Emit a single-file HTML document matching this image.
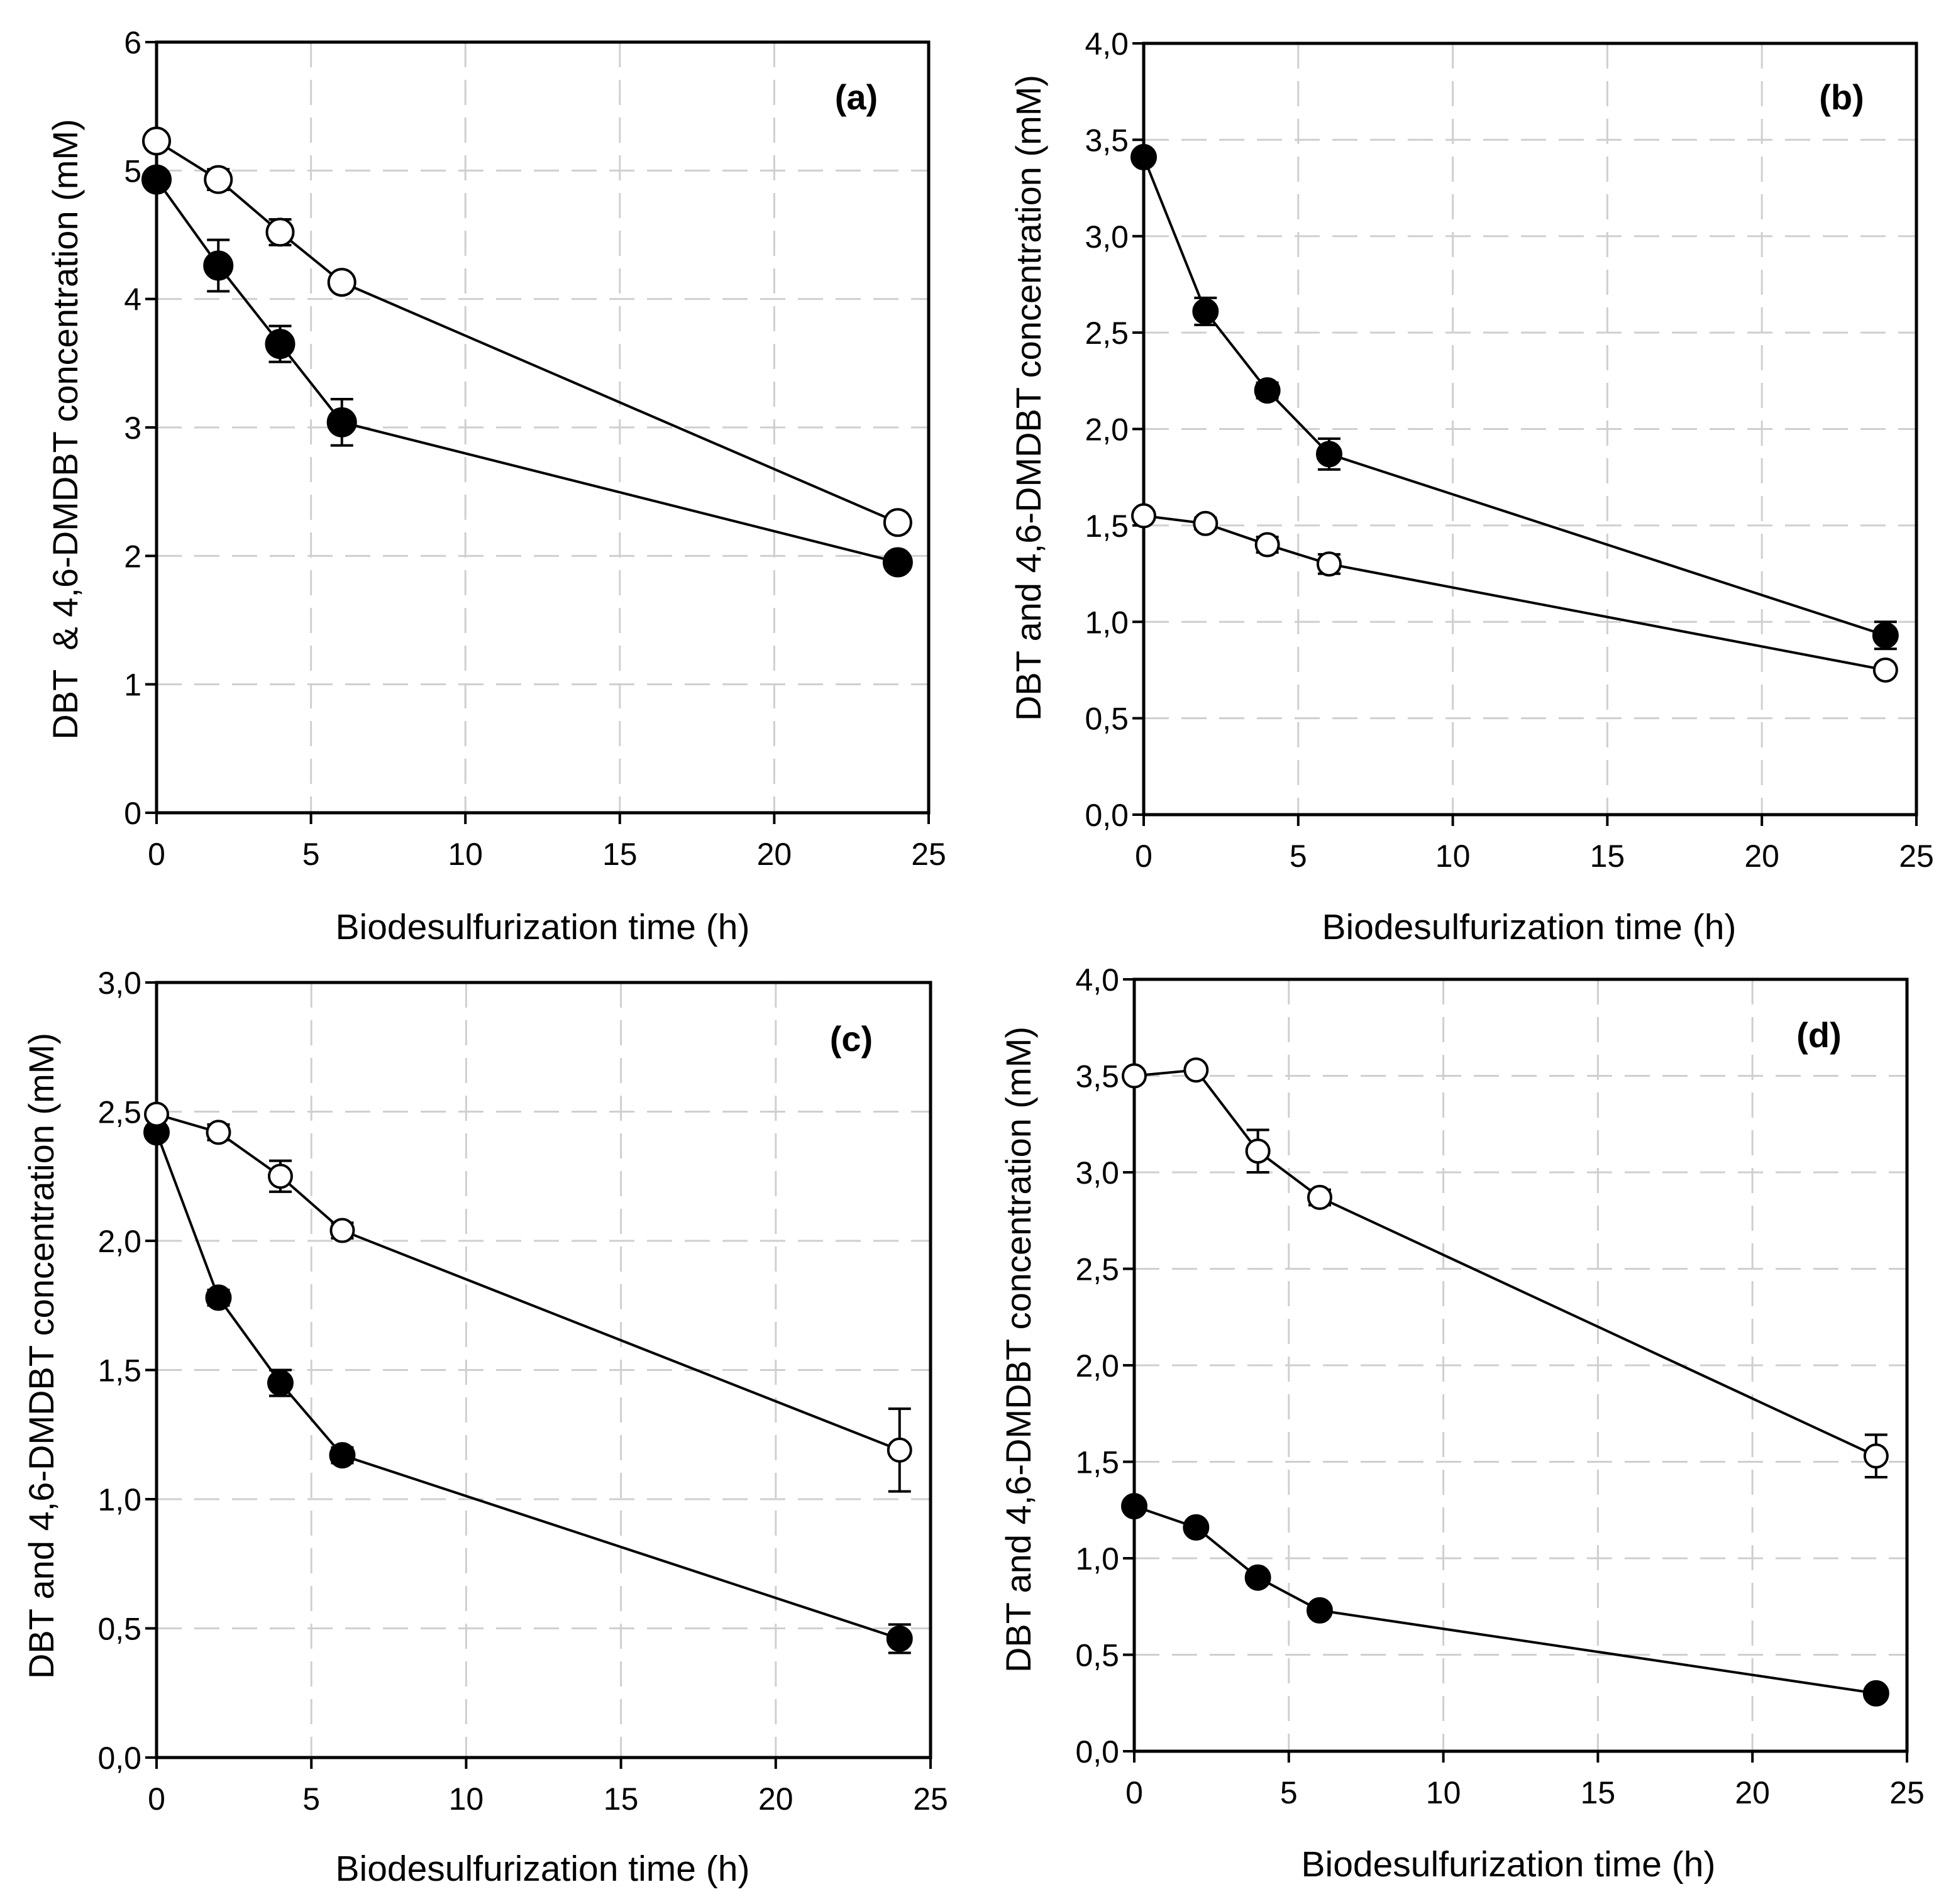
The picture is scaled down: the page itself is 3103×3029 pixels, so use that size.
<!DOCTYPE html>
<html><head><meta charset="utf-8"><style>
html,body{margin:0;padding:0;background:#fff}
svg{display:block}
text{font-family:"Liberation Sans",Arial,sans-serif;fill:#000;white-space:pre}
</style></head><body>
<svg id="chart" width="3103" height="3029" viewBox="0 0 3103 3029" xmlns="http://www.w3.org/2000/svg"></svg>
<script>
const xValues = [0, 2, 4, 6, 24];
const xTicks = [0, 5, 10, 15, 20, 25];
// panel a
const aOpen = [5.23, 4.93, 4.52, 4.13, 2.26];
const aOpenErr = [0, 0.08, 0.1, 0.05, 0];
const aFilled = [4.93, 4.26, 3.65, 3.04, 1.95];
const aFilledErr = [0, 0.2, 0.14, 0.18, 0];
const aTicks = ["0","1","2","3","4","5","6"];
// panel b
const bOpen = [1.55, 1.51, 1.40, 1.30, 0.75];
const bOpenErr = [0, 0.03, 0.04, 0.05, 0];
const bFilled = [3.41, 2.61, 2.20, 1.87, 0.93];
const bFilledErr = [0, 0.07, 0.04, 0.08, 0.07];
const bTicks = ["0,0","0,5","1,0","1,5","2,0","2,5","3,0","3,5","4,0"];
// panel c
const cOpen = [2.49, 2.42, 2.25, 2.04, 1.19];
const cOpenErr = [0, 0.03, 0.06, 0.03, 0.16];
const cFilled = [2.42, 1.78, 1.45, 1.17, 0.46];
const cFilledErr = [0, 0.03, 0.05, 0.03, 0.055];
const cTicks = ["0,0","0,5","1,0","1,5","2,0","2,5","3,0"];
// panel d
const dOpen = [3.50, 3.53, 3.11, 2.87, 1.53];
const dOpenErr = [0, 0.02, 0.11, 0.04, 0.11];
const dFilled = [1.27, 1.16, 0.90, 0.73, 0.30];
const dFilledErr = [0, 0.02, 0.02, 0, 0];
const dTicks = ["0,0","0,5","1,0","1,5","2,0","2,5","3,0","3,5","4,0"];

const NS = "http://www.w3.org/2000/svg";
const svg = document.getElementById("chart");
function mk(tag, attrs, parent){const e=document.createElementNS(NS,tag);for(const k in attrs)e.setAttribute(k,attrs[k]);(parent||svg).appendChild(e);return e;}

const panels = [
 {id:"a",r:22,L:249,R:1477,T:67,B:1293,yMax:6,step:1,ticks:aTicks,open:aOpen,openErr:aOpenErr,filled:aFilled,filledErr:aFilledErr,
  ytitle:"DBT  & 4,6-DMDBT concentration (mM)",ytx:103,yty:683,xtx:863,xty:1494,lx:1362,ly:174},
 {id:"b",r:19,L:1819,R:3048,T:69,B:1296,yMax:4,step:0.5,ticks:bTicks,open:bOpen,openErr:bOpenErr,filled:bFilled,filledErr:bFilledErr,
  ytitle:"DBT and 4,6-DMDBT concentration (mM)",ytx:1635,yty:633,xtx:2432,xty:1494,lx:2929,ly:174},
 {id:"c",r:19,L:249,R:1480,T:1563,B:2796,yMax:3,step:0.5,ticks:cTicks,open:cOpen,openErr:cOpenErr,filled:cFilled,filledErr:cFilledErr,
  ytitle:"DBT and 4,6-DMDBT concentration (mM)",ytx:65,yty:2157,xtx:863,xty:2992,lx:1354,ly:1672},
 {id:"d",r:19,L:1804,R:3033,T:1558,B:2786,yMax:4,step:0.5,ticks:dTicks,open:dOpen,openErr:dOpenErr,filled:dFilled,filledErr:dFilledErr,
  ytitle:"DBT and 4,6-DMDBT concentration (mM)",ytx:1619,yty:2147,xtx:2399,xty:2985,lx:2893,ly:1666}
];

panels.forEach(p=>{
  const g = mk("g",{});
  
  
  const xs = v => p.L + (v/25)*(p.R-p.L);
  const ys = v => p.B - (v/p.yMax)*(p.B-p.T);
  xTicks.forEach(t=>{ if(t>0&&t<25){ const l=mk("line",{x1:xs(t),x2:xs(t),y1:p.T,y2:p.B,stroke:"#cfcfcf","stroke-width":3,"stroke-dasharray":"40 20"},g);
      }});
  p.ticks.forEach((lab,i)=>{ const v=i*p.step; if(i>0&&v<p.yMax){ const l=mk("line",{x1:p.L,x2:p.R,y1:ys(v),y2:ys(v),stroke:"#cfcfcf","stroke-width":3,"stroke-dasharray":"40 20"},g);
      }});
  const fr = mk("rect",{x:p.L,y:p.T,width:p.R-p.L,height:p.B-p.T,fill:"none",stroke:"#000","stroke-width":5},g);
   
  xTicks.forEach(t=>{
    mk("line",{x1:xs(t),x2:xs(t),y1:p.B,y2:p.B+18,stroke:"#000","stroke-width":4},g);
    const tx=mk("text",{x:xs(t),y:p.B+83,"font-size":50,"text-anchor":"middle"},g); tx.textContent=t;
     
  });
  p.ticks.forEach((lab,i)=>{
    const v=i*p.step;
    mk("line",{x1:p.L-18,x2:p.L,y1:ys(v),y2:ys(v),stroke:"#000","stroke-width":4},g);
    const tx=mk("text",{x:p.L-24,y:ys(v)+18,"font-size":50,"text-anchor":"end"},g); tx.textContent=lab;
     
  });
  const xt=mk("text",{x:p.xtx,y:p.xty,"font-size":57,"text-anchor":"middle"},g); xt.textContent="Biodesulfurization time (h)";
   
  const yt=mk("text",{x:0,y:0,"font-size":56,"text-anchor":"middle",transform:`translate(${p.ytx+20},${p.yty}) rotate(-90)`},g); yt.textContent=p.ytitle;
   
  const lb=mk("text",{x:p.lx,y:p.ly,"font-size":56,"font-weight":"bold","text-anchor":"middle"},g); lb.textContent="("+p.id+")";
   
  [[p.filled,p.filledErr,"#000","filled"],[p.open,p.openErr,"#fff","open"]].forEach(([vals,errs,fill,nm])=>{
    const pts = vals.map((v,i)=>xs(xValues[i])+","+ys(v)).join(" ");
    const pl=mk("polyline",{points:pts,fill:"none",stroke:"#000","stroke-width":4},g);
     
    vals.forEach((v,i)=>{
      const x=xs(xValues[i]);
      if(errs[i]>0){
        const e=mk("path",{d:`M${x},${ys(v+errs[i])}V${ys(v-errs[i])}M${x-18},${ys(v+errs[i])}h36M${x-18},${ys(v-errs[i])}h36`,stroke:"#000","stroke-width":4,fill:"none"},g);
         
      }
      const c=mk("circle",{cx:x,cy:ys(v),r:fill==="#000"?p.r:p.r-1,fill:fill,stroke:"#000","stroke-width":4},g);
       
    });
  });
});
</script>
</body></html>
